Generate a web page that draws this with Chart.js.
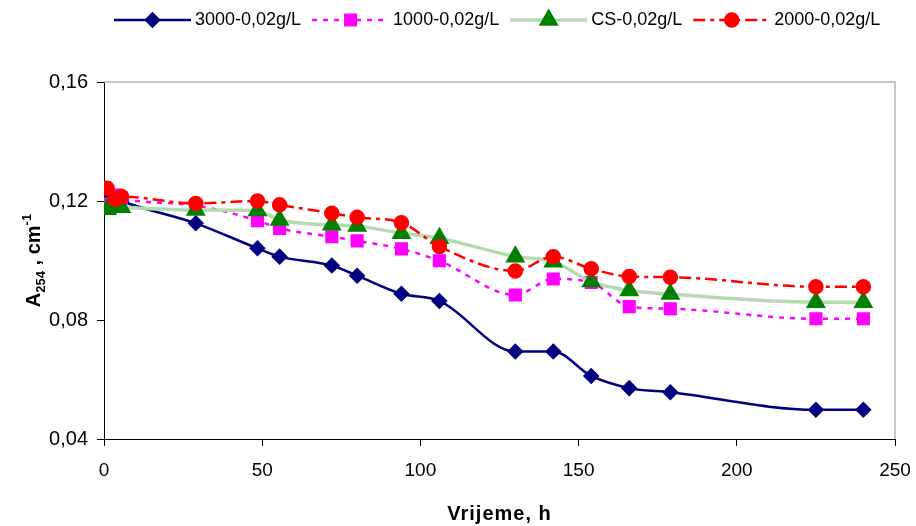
<!DOCTYPE html>
<html>
<head>
<meta charset="utf-8">
<script src="https://cdn.jsdelivr.net/npm/chart.js@4/dist/chart.umd.min.js"></script>
<style>
	html, body { margin: 0; padding: 0; background: #ffffff; }
	#chart { display: block; }
</style>
</head>
<body>
<canvas id="chart" width="916" height="526"></canvas>
<script>
	'use strict'

	// time points (h), shared by all series
	const times = [1, 3.5, 5.5, 29, 48.5, 55.5, 72, 80, 94, 106, 130, 142, 154, 166, 179, 225, 240];

	const seriesLabels = ['3000-0,02g/L', '1000-0,02g/L', 'CS-0,02g/L', '2000-0,02g/L'];
	const s3000 = [0.120, 0.121, 0.120, 0.1125, 0.1041, 0.1013, 0.0983, 0.0949, 0.0888, 0.0864, 0.0694, 0.0694, 0.0612, 0.0571, 0.0557, 0.0498, 0.0498];
	const s1000 = [0.119, 0.122, 0.121, 0.1185, 0.1134, 0.1108, 0.1080, 0.1066, 0.1039, 0.0999, 0.0884, 0.0938, 0.0926, 0.0845, 0.0838, 0.0804, 0.0804];
	const sCS = [0.1172, 0.118, 0.1179, 0.117, 0.1168, 0.1136, 0.1120, 0.1116, 0.1092, 0.1075, 0.1013, 0.0996, 0.0929, 0.0899, 0.0887, 0.0860, 0.0860];
	const s2000 = [0.1243, 0.1206, 0.1215, 0.1192, 0.1200, 0.1187, 0.1159, 0.1145, 0.1127, 0.1047, 0.0965, 0.1013, 0.0972, 0.0946, 0.0944, 0.0912, 0.0912];

	const xTicks = [0, 50, 100, 150, 200, 250];
	const yTicks = [0.04, 0.08, 0.12, 0.16];

	const fontFamily = '"Liberation Sans", Arial, sans-serif';

	function toPoints(values) {
		return values.map((v, i) => ({ x: times[i], y: v }));
	}

	// legend drawn by hand: line segment + marker + text, like the spreadsheet legend
	const customLegend = {
		id: 'customLegend',
		afterDraw(chart) {
			const ctx = chart.ctx;
			const y = 20;
			const lineLen = 77;
			let x = 114;
			ctx.save();
			ctx.font = '18px ' + fontFamily;
			ctx.textBaseline = 'middle';
			chart.data.datasets.forEach((ds) => {
				ctx.strokeStyle = ds.borderColor;
				ctx.lineWidth = ds.borderWidth;
				ctx.setLineDash(ds.borderDash || []);
				ctx.beginPath();
				ctx.moveTo(x, y);
				ctx.lineTo(x + lineLen, y);
				ctx.stroke();
				ctx.setLineDash([]);
				ctx.fillStyle = ds.pointBackgroundColor;
				ctx.strokeStyle = ds.pointBorderColor;
				Chart.helpers.drawPoint(ctx, {
					pointStyle: ds.pointStyle,
					radius: ds.pointRadius,
					rotation: 0,
					borderWidth: 1
				}, x + lineLen / 2, y);
				ctx.fillStyle = '#000000';
				ctx.textAlign = 'left';
				ctx.fillText(ds.label, x + lineLen + 4, y);
				x += lineLen + 4 + ctx.measureText(ds.label).width + 11;
			});
			ctx.restore();
		}
	};

	// axis titles (subscript / superscript need manual drawing) and the grey plot frame
	const axisDecor = {
		id: 'axisDecor',
		beforeDatasetsDraw(chart) {
			const { ctx, chartArea } = chart;
			ctx.save();
			ctx.strokeStyle = '#b4b4b4';
			ctx.lineWidth = 1.5;
			ctx.beginPath();
			ctx.moveTo(chartArea.left, chartArea.top);
			ctx.lineTo(chartArea.right, chartArea.top);
			ctx.lineTo(chartArea.right, chartArea.bottom);
			ctx.stroke();
			ctx.restore();
		},
		afterDraw(chart) {
			const { ctx, chartArea } = chart;
			ctx.save();
			ctx.fillStyle = '#000000';

			// x title
			ctx.font = 'bold 20px ' + fontFamily;
			ctx.textAlign = 'center';
			ctx.textBaseline = 'alphabetic';
			if ('letterSpacing' in ctx) ctx.letterSpacing = '1px';
			ctx.fillText('Vrijeme, h', (chartArea.left + chartArea.right) / 2, 520);
			if ('letterSpacing' in ctx) ctx.letterSpacing = '0px';

			// y title: A254 , cm-1
			const parts = [
				{ t: 'A', font: 'bold 20px ', dy: 0 },
				{ t: '254', font: 'bold 13px ', dy: 5 },
				{ t: ' , cm', font: 'bold 20px ', dy: 0 },
				{ t: '-1', font: 'bold 13px ', dy: -9 }
			];
			let total = 0;
			parts.forEach((p) => {
				ctx.font = p.font + fontFamily;
				p.w = ctx.measureText(p.t).width;
				total += p.w;
			});
			ctx.translate(40, (chartArea.top + chartArea.bottom) / 2);
			ctx.rotate(-Math.PI / 2);
			ctx.textAlign = 'left';
			let px = -total / 2;
			parts.forEach((p) => {
				ctx.font = p.font + fontFamily;
				ctx.fillText(p.t, px, p.dy);
				px += p.w;
			});
			ctx.restore();
		}
	};

	const chart = new Chart(document.getElementById('chart'), {
		type: 'line',
		data: {
			datasets: [
				{
					label: seriesLabels[0],
					data: toPoints(s3000),
					borderColor: '#000080',
					borderWidth: 2.5,
					pointStyle: 'rectRot',
					pointRadius: 6.5,
					pointBackgroundColor: '#000080',
					pointBorderColor: '#000080',
					order: 3
				},
				{
					label: seriesLabels[1],
					data: toPoints(s1000),
					borderColor: '#ff00ff',
					borderWidth: 2.5,
					borderDash: [5, 6],
					pointStyle: 'rect',
					pointRadius: 7.5,
					pointBackgroundColor: '#ff00ff',
					pointBorderColor: '#ff00ff',
					order: 2
				},
				{
					label: seriesLabels[2],
					data: toPoints(sCS),
					borderColor: '#b3dbae',
					borderWidth: 3.5,
					pointStyle: 'triangle',
					pointRadius: 8,
					pointBackgroundColor: '#008000',
					pointBorderColor: '#008000',
					order: 1
				},
				{
					label: seriesLabels[3],
					data: toPoints(s2000),
					borderColor: '#ff0000',
					borderWidth: 2.5,
					borderDash: [12, 5, 4, 5],
					pointStyle: 'circle',
					pointRadius: 6.5,
					pointBackgroundColor: '#ff0000',
					pointBorderColor: '#ff0000',
					order: 0
				}
			]
		},
		options: {
			responsive: false,
			animation: false,
			layout: {
				padding: { top: 82, right: 21, left: 0, bottom: 0 }
			},
			elements: {
				line: { cubicInterpolationMode: 'monotone', fill: false },
				point: { borderWidth: 1, hoverRadius: 6 }
			},
			plugins: {
				legend: { display: false },
				tooltip: { enabled: false }
			},
			scales: {
				x: {
					type: 'linear',
					min: xTicks[0],
					max: xTicks[xTicks.length - 1],
					afterBuildTicks: (scale) => { scale.ticks = xTicks.map((v) => ({ value: v })); },
					afterFit: (scale) => {
						scale.height = 87;
						scale.paddingLeft = 0;
						scale.paddingRight = 0;
					},
					border: { display: true, color: '#000000', width: 1 },
					grid: { drawOnChartArea: false, color: '#000000', tickLength: 7, tickColor: '#000000' },
					ticks: {
						color: '#000000',
						padding: 13,
						maxRotation: 0,
						font: { family: fontFamily, size: 19 },
						callback: (value) => String(value)
					}
				},
				y: {
					type: 'linear',
					min: yTicks[0],
					max: yTicks[yTicks.length - 1],
					afterBuildTicks: (scale) => { scale.ticks = yTicks.map((v) => ({ value: v })); },
					afterFit: (scale) => {
						scale.width = 104;
						scale.paddingTop = 0;
						scale.paddingBottom = 0;
					},
					border: { display: true, color: '#000000', width: 1 },
					grid: { drawOnChartArea: false, color: '#000000', tickLength: 7, tickColor: '#000000' },
					ticks: {
						color: '#000000',
						padding: 9,
						font: { family: fontFamily, size: 20 },
						callback: (value) => value.toFixed(2).replace('.', ',')
					}
				}
			}
		},
		plugins: [axisDecor, customLegend]
	});
</script>
</body>
</html>
